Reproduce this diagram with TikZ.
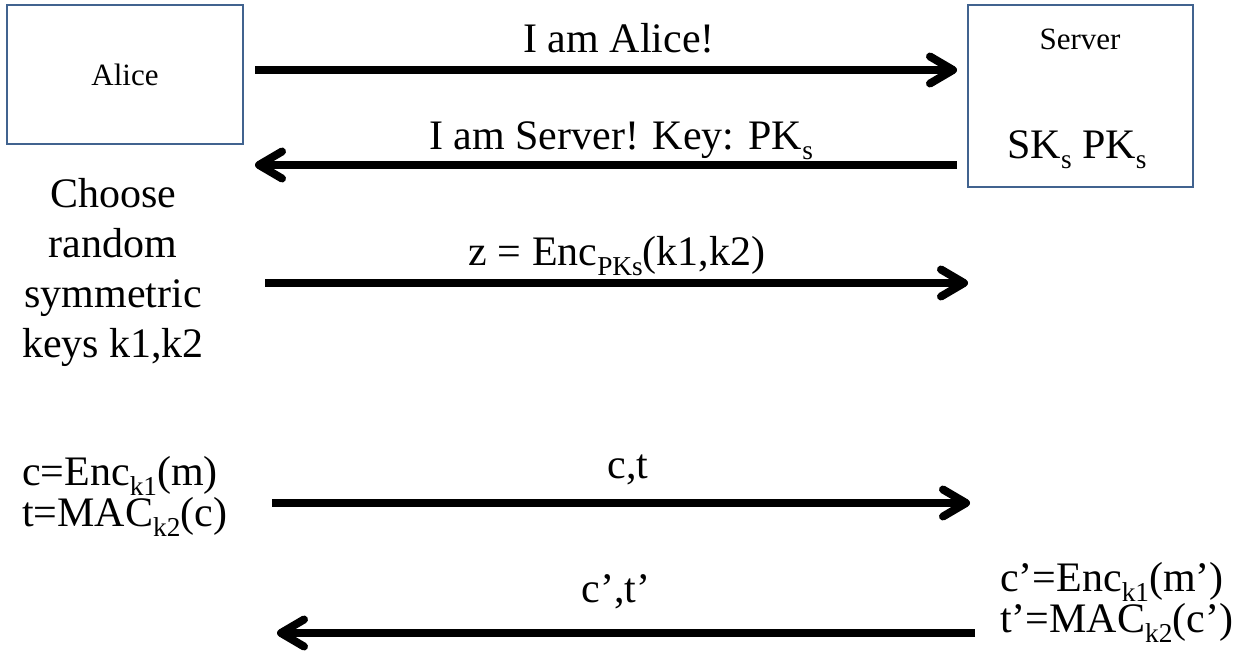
\documentclass[tikz,border=0pt]{standalone}
\usepackage{fontspec}
\setmainfont{Liberation Serif}
\usetikzlibrary{arrows.meta}
\newcommand\lowsub[1]{\raisebox{-0.25em}{\scalebox{0.65}{#1}}}
\definecolor{boxblue}{HTML}{41638F}
\begin{document}
\begin{tikzpicture}[x=1pt,y=-1pt,
  big/.style={font=\fontsize{42}{50}\selectfont, inner sep=0pt},
  tight/.style={font=\fontsize{42}{#1}\selectfont, inner sep=0pt, align=left},
  small/.style={font=\fontsize{31}{37}\selectfont, inner sep=0pt},
  party/.style={draw=boxblue, line width=2.5pt, inner sep=0pt},
  msg/.style={line width=8pt, -{Straight Barb[length=23pt,width=27pt,round]}}]
\useasboundingbox (0,0) rectangle (1251,661);
% boxes
\node[party, small, minimum width=236pt, minimum height=139pt] (alice) at (125,74.5) {Alice};
\node[party, minimum width=225pt, minimum height=182pt] (server) at (1080.5,96) {};
\node[small, anchor=base] (srvname) at (1080,50) {Server};
\node[big, anchor=base] (srvkeys) at (1077,158) {SK\lowsub{s} PK\lowsub{s}};
% arrow end points
\coordinate (a1s) at (255,70);  \coordinate (a1e) at (957,70);
\coordinate (a2s) at (957,165); \coordinate (a2e) at (255,165);
\coordinate (a3s) at (265,283); \coordinate (a3e) at (968,283);
\coordinate (a4s) at (272,503); \coordinate (a4e) at (970,503);
\coordinate (a5s) at (975,633); \coordinate (a5e) at (277,633);
\draw[msg] (a1s) -- (a1e);
\draw[msg] (a2s) -- (a2e);
\draw[msg] (a3s) -- (a3e);
\draw[msg] (a4s) -- (a4e);
\draw[msg] (a5s) -- (a5e);
% message labels
\node[big, anchor=base] (m1) at (619,53) {I am Alice!};
\node[big, anchor=base] (m2) at (621,149) {I am Server! Key: PK\lowsub{s}};
\node[big, anchor=base] (m3) at (617,265) {z = Enc\lowsub{PKs}(k1,k2)};
\node[big, anchor=base] (m4) at (628,478) {c,t};
\node[big, anchor=base] (m5) at (616,602) {c',t'};
% side texts
\node[big, align=center] (choose) at (113,272) {Choose\\random\\symmetric\\keys k1,k2};
\node[tight=38, anchor=base west] (aliceops) at (22,526) {c=Enc\lowsub{k1}(m)\\t=MAC\lowsub{k2}(c)};
\node[tight=35, anchor=base west] (serverops) at (1000,632) {c'=Enc\lowsub{k1}(m')\\t'=MAC\lowsub{k2}(c')};
\end{tikzpicture}
\end{document}
